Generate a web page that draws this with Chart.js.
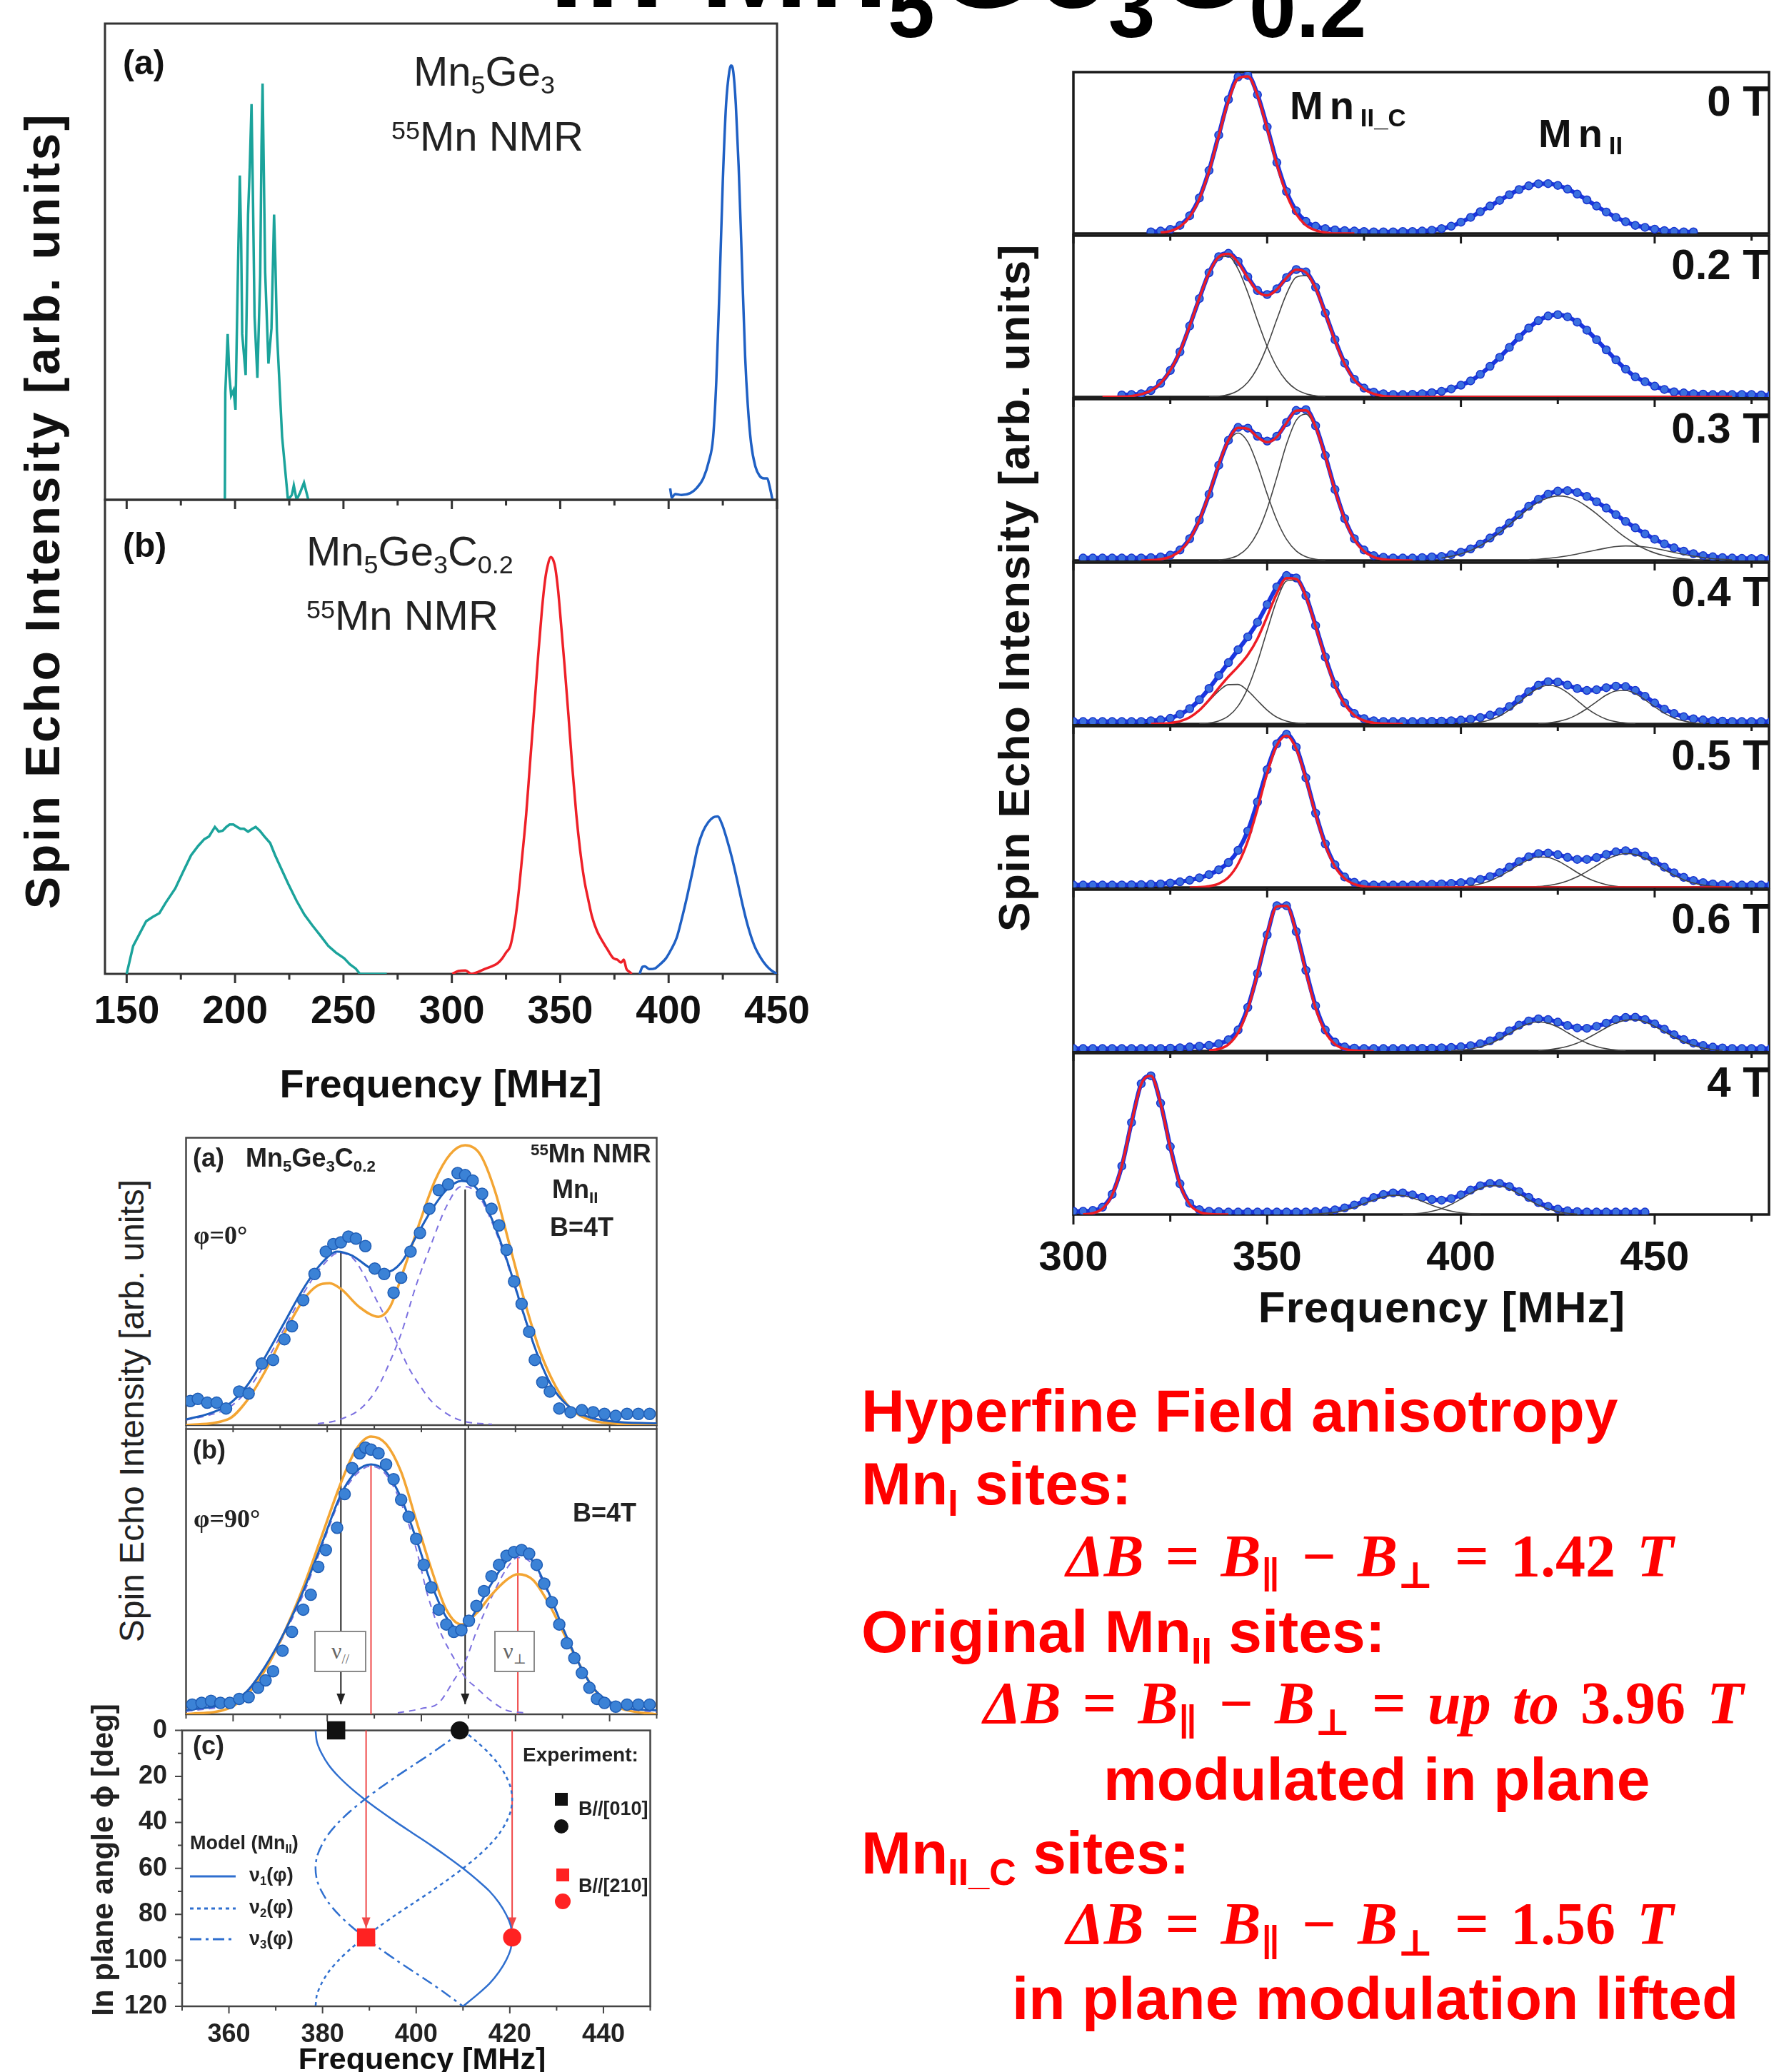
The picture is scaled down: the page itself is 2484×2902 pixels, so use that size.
<!DOCTYPE html>
<html>
<head>
<meta charset="utf-8">
<title>55Mn NMR in Mn5Ge3C0.2</title>
<script src="https://cdn.jsdelivr.net/npm/chart.js@4.4.1/dist/chart.umd.min.js"></script>
<style>
  html, body { margin: 0; padding: 0; }
  body { width: 2484px; height: 2902px; position: relative; overflow: hidden; background: #fff;
         font-family: "Liberation Sans", Arial, Helvetica, sans-serif; color: #111; }
  canvas { position: absolute; }
  .t { position: absolute; white-space: nowrap; line-height: 1; }
  .rot { position: absolute; white-space: nowrap; text-align: center; transform: rotate(-90deg); }
  .t sub { font-size: .62em; vertical-align: -.3em; line-height: 0; }
  .t sup { font-size: .62em; vertical-align: .45em; line-height: 0; }
  .ts { font-size: .65em; vertical-align: -42px; line-height: 0; }
  .math { font-family: "Liberation Serif", "DejaVu Serif", serif; font-weight: bold; word-spacing: 9px; }
  .box { position: absolute; border: 2px solid #8a8a8a; background: #fff; color: #666; box-sizing: border-box;
         font-family: "Liberation Serif", "DejaVu Serif", serif; font-size: 32px; text-align: center; line-height: 52px; }
  .mk { position: absolute; }
</style>
</head>
<body>
<script>
Chart.defaults.font.family = '"Liberation Sans", Arial, sans-serif';
Chart.defaults.color = '#111';

// ---------- top-left: 55Mn NMR, (a) Mn5Ge3, (b) Mn5Ge3C0.2 ----------
const tealAFreq = [195.3,195.5,196.6,197.4,198.2,199.3,200.2,201.4,202.2,202.8,203.3,204.9,206.0,206.8,207.6,208.3,209.0,210.3,211.6,212.2,212.7,213.3,213.9,215.4,216.8,218.0,218.6,219.3,221.7,224.4,226.2,227.1,228.4,230.0,231.8,233.8];
const tealA = [0,.225,.348,.26,.219,.23,.189,.5,.681,.55,.348,.262,.599,.7,.831,.62,.385,.256,.471,.74,.874,.68,.477,.286,.36,.599,.5,.354,.133,0,.01,.03,0,.015,.036,0];
const blueAFreq = [400.7,401.5,403,406,410,413,416,418.5,420.5,422,423.5,425,426.5,428,428.8,429.8,431,432.3,433.8,435.3,436.5,438,440,442,444,445.5,446.5,447.9];
const blueA = [.024,.005,.012,.01,.014,.025,.045,.08,.13,.25,.45,.67,.83,.9,.912,.9,.83,.7,.5,.3,.2,.12,.07,.05,.045,.045,.03,0];

const tealBFreq = [150,153,159,162,165.1,168,172.4,176,179.7,183,185.8,188,190.7,192.5,194.3,196,197.5,199.2,201,202.5,204.1,206,208,209.5,211.4,213.5,216.2,218.5,221.1,224.5,228.4,232,235.7,239.5,243,246.5,250.3,253,255.7,257.6,262,270];
const tealB = [0,.059,.111,.12,.128,.15,.18,.215,.25,.27,.284,.29,.31,.3,.302,.31,.315,.315,.31,.306,.306,.3,.306,.31,.302,.29,.276,.25,.224,.19,.154,.125,.102,.08,.059,.045,.033,.02,.011,0,0,0];
const redBFreq = [300.2,303,306.3,309,312,315,318.5,321,323.3,325,327,328.8,330.6,332.5,334.3,336,337.9,339.8,341.6,343,344,345.7,347,347.7,349,350.1,352,353.8,355.5,357.4,359.2,361.1,363,364.7,367,369.6,372,374.5,376.3,378.1,379.3,380.5,382,383];
const redB = [0,.006,.007,0,.004,.01,.016,.022,.033,.045,.059,.1,.163,.25,.337,.44,.553,.67,.77,.83,.857,.879,.87,.857,.81,.753,.65,.545,.44,.337,.26,.198,.155,.12,.09,.068,.05,.033,.03,.024,.03,.011,.004,0];
const blueBFreq = [386.6,388,389,391,393.9,396,398.8,401,403.7,406,408.5,411,413.4,415.8,418.3,420.5,422.6,424.7,426.8,429.2,431.6,434,436.5,439.5,442.6,445,447.5,449.9];
const blueB = [0,.015,.016,.01,.012,.02,.033,.05,.076,.115,.163,.215,.267,.3,.32,.33,.332,.315,.285,.245,.198,.148,.102,.06,.033,.018,.007,0];

// ---------- right: field dependence, 2.5 MHz grid ----------
const freqGrid = [300,302.5,305,307.5,310,312.5,315,317.5,320,322.5,325,327.5,330,332.5,335,337.5,340,342.5,345,347.5,350,352.5,355,357.5,360,362.5,365,367.5,370,372.5,375,377.5,380,382.5,385,387.5,390,392.5,395,397.5,400,402.5,405,407.5,410,412.5,415,417.5,420,422.5,425,427.5,430,432.5,435,437.5,440,442.5,445,447.5,450,452.5,455,457.5,460,462.5,465,467.5,470,472.5,475,477.5,480];
const fieldLabels = ['0 T', '0.2 T', '0.3 T', '0.4 T', '0.5 T', '0.6 T', '4 T'];

const blue0T = [.01,.015,.025,.05,.11,.22,.39,.61,.83,.97,.98,.86,.66,.44,.26,.14,.075,.045,.03,.022,.018,.015,.012,.01,.01,.01,.012,.012,.015,.02,.03,.045,.07,.10,.135,.17,.205,.24,.272,.295,.308,.309,.298,.275,.244,.208,.17,.133,.10,.073,.05,.038,.027,.018,.013,.01,.01];
const blue02T = [.012,.015,.02,.04,.085,.165,.28,.44,.61,.77,.87,.89,.84,.745,.66,.635,.67,.74,.79,.775,.68,.52,.355,.21,.11,.055,.03,.02,.016,.015,.017,.02,.027,.035,.05,.073,.10,.14,.19,.246,.307,.37,.427,.473,.502,.51,.497,.464,.414,.355,.292,.23,.173,.125,.095,.067,.047,.032,.025,.02,.018,.015,.015,.015,.015,.015,.012,.012];
const blue03T = [.015,.015,.015,.015,.015,.015,.016,.018,.022,.033,.065,.135,.25,.41,.59,.745,.825,.82,.77,.74,.77,.855,.93,.935,.835,.65,.44,.26,.135,.065,.03,.02,.016,.015,.015,.018,.022,.025,.036,.051,.072,.102,.139,.183,.232,.283,.336,.379,.411,.43,.433,.421,.397,.364,.325,.284,.242,.202,.165,.132,.103,.078,.058,.042,.03,.023,.018,.015,.013,.012,.012,.012];
const blue04T = [.015,.015,.015,.015,.015,.015,.015,.016,.02,.025,.035,.06,.095,.15,.22,.30,.38,.46,.54,.63,.74,.85,.92,.905,.795,.61,.415,.245,.13,.065,.033,.02,.016,.015,.015,.015,.016,.017,.018,.02,.024,.03,.04,.055,.075,.108,.152,.2,.24,.262,.26,.241,.22,.208,.212,.225,.235,.232,.208,.172,.13,.092,.065,.045,.032,.025,.02,.018,.016,.015,.015,.015,.015];
const blue05T = [.015,.015,.015,.015,.015,.016,.017,.018,.02,.022,.028,.035,.045,.06,.08,.11,.155,.23,.35,.53,.73,.89,.95,.87,.68,.46,.27,.14,.065,.032,.02,.016,.015,.015,.015,.016,.018,.02,.022,.025,.03,.037,.05,.068,.092,.126,.16,.19,.21,.213,.203,.187,.174,.174,.186,.205,.221,.228,.219,.196,.163,.126,.091,.063,.043,.03,.022,.018,.016,.015,.015,.015,.015];
const blue06T = [.015,.015,.015,.015,.015,.015,.015,.015,.015,.016,.018,.02,.025,.03,.035,.045,.07,.13,.27,.48,.72,.9,.9,.74,.5,.28,.13,.055,.025,.018,.015,.015,.015,.015,.015,.016,.017,.018,.02,.022,.026,.033,.045,.063,.092,.125,.16,.186,.199,.195,.179,.158,.143,.141,.153,.173,.195,.208,.209,.195,.168,.135,.101,.071,.049,.034,.024,.019,.016,.015,.015,.015,.015];
const blue4T = [.02,.02,.025,.045,.125,.3,.57,.81,.86,.69,.42,.19,.07,.03,.02,.018,.015,.015,.015,.015,.015,.015,.015,.016,.016,.018,.022,.029,.041,.059,.082,.105,.124,.134,.134,.122,.106,.093,.089,.099,.122,.151,.178,.193,.192,.173,.142,.106,.074,.05,.033,.023,.018,.016,.015,.015,.015,.015,.015,.015];
const blueStart = [320, 312.5, 302.5, 300, 300, 300, 300];

const red0T = [.005,.015,.042,.103,.214,.386,.605,.82,.96,.973,.855,.65,.428,.243,.12,.051,.019,.006,0,0,0];
const red02T = [0,.001,.002,.006,.017,.04,.085,.165,.283,.44,.613,.769,.868,.887,.833,.738,.655,.629,.666,.738,.789,.772,.674,.517,.348,.205,.106,.048,.019,.006,.002,
  0,0,0,0,0, 0,0,0,0,0, 0,0,0,0,0, 0,0,0,0,0, 0,0,0,0,0, 0,0,0,0,0, 0,0,0,0,0];
const red03T = [0,.002,.008,.023,.059,.131,.25,.412,.595,.746,.822,.816,.765,.733,.766,.852,.928,.93,.828,.644,.435,.256,.129,.057,.022,.007,.002,0,0];
const red04T = [0,.002,.006,.017,.041,.085,.149,.223,.293,.356,.428,.529,.666,.809,.904,.899,.788,.605,.406,.238,.122,.054,.021,.007,.002,0,0];
const red05T = [0,.002,.008,.024,.063,.146,.288,.487,.708,.881,.94,.859,.673,.453,.261,.129,.055,.02,.006,.002,
  0,0,0,0,0, 0,0,0,0,0, 0,0,0,0,0, 0,0,0,0,0, 0,0,0,0,0, 0,0,0,0,0, 0,0,0,0,0, 0,0];
const red06T = [.003,.012,.04,.113,.258,.479,.726,.895,.899,.734,.489,.266,.118,.042,.012,.003,0,0];
const red4T = [.001,.008,.036,.12,.302,.569,.807,.86,.688,.413,.187,.063,.016,.003,0,0];
const redStart = [322.5, 307.5, 317.5, 320, 330, 335, 302.5];

// fitted components: [first frequency, values on the grid]
const comps02T = [
  [315, [.006,.017,.04,.085,.165,.283,.44,.613,.767,.863,.872,.793,.647,.474,.313,.185,.099,.047,.02,.008,.003]],
  [335, [.0015,.005,.015,.04,.091,.181,.316,.481,.639,.742,.752,.666,.514,.347,.205,.106,.048,.019,.006,.002]]];
const comps03T = [
  [320, [.002,.008,.023,.059,.131,.25,.412,.592,.735,.79,.735,.592,.412,.25,.131,.059,.023,.008,.002]],
  [337.5, [.003,.011,.032,.081,.173,.321,.516,.721,.869,.907,.82,.642,.435,.256,.129,.057,.022,.007,.002]],
  [395, [.015,.026,.041,.062,.092,.129,.173,.222,.273,.321,.361,.388,.40,.394,.371,.334,.289,.238,.188,.142,.103,.071,.047,.03,.018,.01,.005,.002]],
  [417.5, [.005,.008,.013,.02,.029,.04,.053,.065,.077,.086,.09,.089,.084,.075,.063,.05,.038,.027,.018,.011,.007,.004]]];
const comps04T = [
  [322.5, [.002,.006,.017,.041,.083,.143,.204,.244,.245,.206,.145,.086,.042,.018,.006,.002]],
  [332.5, [.002,.006,.019,.049,.111,.222,.384,.58,.767,.886,.893,.786,.605,.406,.238,.122,.054,.021,.007,.002]],
  [400, [.002,.005,.011,.025,.05,.087,.134,.183,.222,.24,.229,.194,.146,.097,.058,.03,.014,.006,.002]],
  [420, [.002,.006,.015,.031,.058,.095,.138,.179,.205,.208,.188,.15,.107,.067,.037,.019,.008,.003]]];
const comps05T = [
  [397.5, [.002,.005,.01,.022,.041,.069,.104,.141,.172,.189,.186,.165,.131,.093,.06,.035,.018,.008,.003]],
  [417.5, [.002,.006,.012,.023,.041,.066,.099,.136,.172,.198,.21,.204,.181,.148,.111,.076,.048,.028,.015,.007,.003]]];
const comps06T = [
  [397.5, [.002,.005,.012,.025,.045,.074,.108,.143,.169,.18,.172,.148,.114,.079,.049,.028,.014,.006,.002]],
  [420, [.004,.008,.016,.029,.049,.077,.11,.144,.174,.191,.194,.18,.153,.12,.086,.056,.034,.019,.009,.004]]];
const comps4T = [
  [360, [.001,.003,.007,.014,.026,.044,.067,.09,.109,.119,.117,.103,.082,.058,.037,.021,.011,.005,.002]],
  [385, [.002,.004,.009,.02,.037,.063,.096,.131,.161,.178,.177,.158,.127,.091,.059,.035,.018,.008,.003]]];

// ---------- bottom-left: Mn_II at B = 4 T, phi = 0 and 90 deg ----------
const dotsAFreq = [350.9,352.5,354.5,356.5,358.5,361.3,363.3,366.1,368.5,370.9,372.5,374.9,377.3,379.7,381.3,382.9,384.5,386.1,388.1,390.1,392.1,394.1,395.7,397.7,399.7,401.7,403.7,405.7,407.7,409.3,410.9,412.9,414.9,416.5,418.1,419.7,421.3,422.9,424.1,425.7,427.3,429.3,431.7,434.1,436.5,438.9,441.3,443.7,446.1,448.5];
const dotsA = [.084,.091,.078,.078,.058,.117,.11,.214,.227,.299,.344,.435,.526,.604,.63,.636,.656,.649,.623,.545,.526,.461,.513,.604,.669,.753,.818,.838,.877,.87,.851,.805,.753,.695,.61,.5,.422,.325,.227,.149,.117,.058,.045,.052,.045,.039,.032,.039,.039,.039];
const fitAFreq = [350,354.9,358.9,362.9,366.9,370.9,374.9,378.9,382.1,385.3,389.3,392.5,395.7,398.9,402.1,405.3,408.5,411.7,414.9,418.1,421.3,424.5,427.7,430.9,434.9,440.5,450];
const fitA = [.02,.04,.07,.136,.24,.357,.474,.565,.604,.59,.545,.532,.565,.656,.747,.818,.85,.825,.72,.578,.41,.253,.136,.071,.032,.013,.006];
const modelAFreq = [350,358.9,362.9,366.9,370.9,374.9,378.1,380.5,382.9,386.9,390.9,393.3,396.5,399.7,402.9,406.1,409.3,412.5,415.7,418.9,422.1,425.3,428.5,431.7,435.7,440.5,450];
const modelA = [0,.02,.084,.19,.32,.435,.487,.494,.474,.41,.377,.41,.552,.708,.851,.942,.974,.942,.812,.617,.422,.253,.136,.058,.019,.006,0];
const peak1AFreq = [350,355,359,363,367,371,375,379,382.5,385.5,387.7,390,392.5,395,397.3,400,402.1,404.5,406.9,410,415];
const peak1A = [.018,.035,.06,.12,.22,.34,.46,.555,.6,.58,.526,.45,.37,.28,.2,.13,.084,.05,.026,.01,.003];
const peak2AFreq = [378,381.3,384,386.1,388.5,390.9,393.3,395.7,398.9,402.1,405.3,408.5,411.7,414.9,418.1,421.3,424.5,427.7,430.9,434.9,440,446];
const peak2A = [.005,.013,.028,.045,.08,.136,.22,.318,.487,.63,.76,.83,.81,.71,.57,.405,.25,.135,.07,.03,.012,.004];

const dotsBFreq = [351.3,353.3,355.3,357.3,359.3,361.3,363.3,365.3,366.9,368.5,370.5,372.5,374.9,376.5,378.1,379.7,382.1,383.7,385.3,386.9,388.1,389.3,390.9,392.5,394.1,395.7,397.3,398.9,400.5,402.1,403.7,405.3,406.9,408.5,410.1,411.7,413.3,414.9,416.5,418.1,419.7,421.3,422.9,424.5,426.1,427.7,429.3,430.9,432.5,434.1,435.7,437.3,438.9,441.3,443.7,446.1,448.5];
const dotsB = [.034,.04,.047,.04,.04,.054,.06,.093,.119,.151,.223,.289,.367,.419,.517,.576,.654,.772,.863,.915,.935,.928,.915,.876,.824,.752,.693,.615,.524,.445,.367,.315,.289,.295,.328,.38,.432,.484,.524,.556,.569,.576,.563,.524,.458,.393,.315,.249,.197,.145,.093,.054,.04,.027,.034,.034,.034];
const curveBFreq = [350,358.9,362.9,366.9,370.9,374.9,378.9,382.9,386.1,389.3,392.5,395.7,398.9,402.1,405.3,408.5,411.7,414.9,418.1,420.5,423.7,426.9,430.1,433.3,436.5,439.7,443.7,450];
const fitB = [.014,.04,.08,.17,.288,.432,.6,.77,.85,.876,.85,.758,.615,.458,.34,.295,.367,.458,.537,.563,.537,.432,.302,.184,.093,.047,.021,.014];
const modelB = [0,.02,.067,.158,.288,.445,.628,.811,.928,.974,.948,.85,.68,.51,.367,.315,.354,.419,.471,.491,.471,.393,.289,.184,.093,.04,.014,0];
const peak1BFreq = [350,358.9,362.9,366.9,370.9,374.9,378.9,382.9,386.1,389.3,392.5,395.7,398.9,401.3,404,406.9,409.3,411.7,415,418.1,422];
const peak1B = [.01,.035,.075,.16,.28,.42,.59,.76,.84,.87,.84,.74,.58,.42,.29,.197,.13,.093,.045,.014,.005];
const peak2BFreq = [395,400,403.7,406.9,409.3,411.7,414.9,418.1,420.5,423.7,426.9,430.1,433.3,436.5,439.7,443.7,450];
const peak2B = [.005,.02,.04,.119,.184,.29,.41,.51,.55,.525,.425,.3,.184,.093,.047,.02,.008];

// (c) in-plane angle model and experiment
const angle = [0,5,10,15,20,25,30,35,40,45,50,55,60,65,70,75,80,85,90,95,100,105,110,115,120];
const nu1 = [378.5,378.8,379.8,381.3,383.4,386.0,389.0,392.3,395.8,399.5,403.2,406.7,410.0,413.0,415.7,417.7,419.2,420.2,420.5,420.2,419.2,417.7,415.7,413.0,410.0];
const nu2 = [410.0,413.0,415.6,417.7,419.2,420.2,420.5,420.2,419.2,417.7,415.6,413.0,410.0,406.7,403.2,399.5,395.8,392.3,389.0,386.0,383.4,381.3,379.8,378.8,378.5];
const nu3 = [410.0,406.7,403.2,399.5,395.8,392.3,389.0,386.0,383.4,381.3,379.8,378.8,378.5,378.8,379.8,381.3,383.4,386.0,389.0,392.3,395.8,399.5,403.2,406.7,410.0];
const exp0Freq = [382.9, 409.3];   // B//[010], phi = 0
const exp90Freq = [389.3, 420.5];  // B//[210], phi = 90
const peakHeightA = [.604, .82];
const peakHeightB = [.876, .563];

// ---------- helpers ----------
const xy = (xs, ys) => ys.map((y, i) => ({x: xs[i], y}));
const onGrid = (from, ys) => {
  const k = freqGrid.indexOf(from);
  return ys.map((y, i) => ({x: freqGrid[k + i], y}));
};

function trace(data, color, width, more) {
  return Object.assign({data, borderColor: color, borderWidth: width, pointRadius: 0, fill: false,
    cubicInterpolationMode: 'monotone'}, more || {});
}
function dots(data, fill, edge, r, more) {
  return Object.assign({data, showLine: false, pointRadius: r, pointBackgroundColor: fill,
    pointBorderColor: edge, pointBorderWidth: 1.5}, more || {});
}

// box around the plot area plus outward tick marks
const frame = {
  id: 'frame',
  beforeDatasetsDraw(chart, args, o) {
    const {ctx, chartArea: a, scales} = chart;
    ctx.save();
    ctx.strokeStyle = o.color;
    ctx.lineWidth = o.width;
    ctx.strokeRect(a.left, a.top, a.right - a.left, a.bottom - a.top);
    ctx.lineWidth = o.tickWidth;
    ctx.beginPath();
    scales.x.ticks.forEach(t => {
      const p = scales.x.getPixelForValue(t.value);
      const len = t.value % o.xMajor === 0 ? o.len : o.minorLen;
      ctx.moveTo(p, a.bottom);
      ctx.lineTo(p, a.bottom + len);
    });
    if (o.yMajor) {
      scales.y.ticks.forEach(t => {
        const p = scales.y.getPixelForValue(t.value);
        const len = t.value % o.yMajor === 0 ? o.len : o.minorLen;
        ctx.moveTo(a.left, p);
        ctx.lineTo(a.left - len, p);
      });
    }
    ctx.stroke();
    ctx.restore();
  }
};

// vertical guide lines (peak positions), optional arrow head
const guides = {
  id: 'guides',
  beforeDatasetsDraw(chart, args, o) {
    if (!o.lines) return;
    const {ctx, scales: {x, y}} = chart;
    ctx.save();
    o.lines.forEach(g => {
      const px = x.getPixelForValue(g.x);
      const y0 = y.getPixelForValue(g.from), y1 = y.getPixelForValue(g.to);
      ctx.strokeStyle = g.color;
      ctx.fillStyle = g.color;
      ctx.lineWidth = g.width;
      ctx.beginPath();
      ctx.moveTo(px, y0);
      ctx.lineTo(px, y1);
      ctx.stroke();
      if (g.arrow) {
        ctx.beginPath();
        ctx.moveTo(px, y1);
        ctx.lineTo(px - 6, y1 - 15);
        ctx.lineTo(px + 6, y1 - 15);
        ctx.closePath();
        ctx.fill();
      }
    });
    ctx.restore();
  }
};

function panel(area, pad, datasets, o) {
  const cv = document.createElement('canvas');
  const W = area.w + pad.l + pad.r, H = area.h + pad.t + pad.b;
  cv.width = W;
  cv.height = H;
  Object.assign(cv.style, {left: (area.x - pad.l) + 'px', top: (area.y - pad.t) + 'px', width: W + 'px', height: H + 'px'});
  document.body.appendChild(cv);
  const yShown = !!o.yTicks;
  return new Chart(cv, {
    type: 'line',
    data: {datasets},
    options: {
      responsive: false, animation: false, events: [], devicePixelRatio: 1,
      layout: {padding: {left: yShown ? 0 : pad.l, top: pad.t, right: pad.r, bottom: 0}},
      plugins: {legend: {display: false}, tooltip: {enabled: false}, frame: o.frame, guides: {lines: o.lines}},
      scales: {
        x: {
          type: 'linear', min: o.xMin, max: o.xMax,
          afterFit: s => { s.height = pad.b; },
          grid: {display: false, drawTicks: false}, border: {display: false},
          ticks: Object.assign({stepSize: o.xStep, includeBounds: false, autoSkip: false, maxRotation: 0,
            display: !!o.xLabels, callback: o.xLabels || (() => '')}, o.xTickStyle || {})
        },
        y: yShown ? {
          type: 'linear', min: o.yMin, max: o.yMax, reverse: !!o.yReverse,
          afterFit: s => { s.width = pad.l; },
          grid: {display: false, drawTicks: false}, border: {display: false},
          ticks: Object.assign({stepSize: o.yStep, includeBounds: false, autoSkip: false, callback: o.yTicks}, o.yTickStyle || {})
        } : {display: false, min: o.yMin, max: o.yMax}
      }
    },
    plugins: [frame, guides]
  });
}

function txt(html, left, base, size, css, serif) {
  const d = document.createElement('div');
  d.className = 't';
  d.innerHTML = html;
  const k = serif ? 0.8375 : 0.8465;
  d.style.cssText = `left:${left}px;top:${(base - k * size).toFixed(1)}px;font-size:${size}px;` + (css || '');
  document.body.appendChild(d);
  return d;
}
function ctext(html, cx, cy, size, css) {
  const d = document.createElement('div');
  d.className = 't';
  d.innerHTML = html;
  d.style.cssText = `left:${cx}px;top:${cy - size / 2}px;font-size:${size}px;transform:translateX(-50%);` + (css || '');
  document.body.appendChild(d);
}
function vtext(html, cx, cy, size, w, css) {
  const d = document.createElement('div');
  d.className = 'rot';
  d.innerHTML = html;
  d.style.cssText = `left:${cx - w / 2}px;top:${cy - size / 2}px;width:${w}px;height:${size}px;line-height:${size}px;font-size:${size}px;` + (css || '');
  document.body.appendChild(d);
}

// ---------- top-left chart ----------
const tlFrame = {color: '#333', width: 3, tickWidth: 3, len: 13, minorLen: 8, xMajor: 50};
const tlX = {xMin: 140, xMax: 450, xStep: 25, yMin: 0, yMax: 1, frame: tlFrame};
panel({x: 147, y: 33, w: 941, h: 667}, {l: 4, t: 4, r: 4, b: 20}, [
  trace(xy(tealAFreq, tealA), '#1ba39b', 3.5, {cubicInterpolationMode: 'default', tension: 0}),
  trace(xy(blueAFreq, blueA), '#1f60c4', 3.5)
], tlX);
panel({x: 147, y: 700, w: 941, h: 664}, {l: 80, t: 4, r: 80, b: 110}, [
  trace(xy(tealBFreq, tealB), '#1ba39b', 3.5, {cubicInterpolationMode: 'default', tension: 0}),
  trace(xy(redBFreq, redB), '#ee2028', 3.5),
  trace(xy(blueBFreq, blueB), '#1f60c4', 3.5)
], Object.assign({}, tlX, {
  xLabels: v => v % 50 === 0 ? v : '',
  xTickStyle: {font: {size: 55, weight: 'bold'}, color: '#111', padding: 21}
}));

// ---------- right chart: one panel per field ----------
const fieldBlue = [blue0T, blue02T, blue03T, blue04T, blue05T, blue06T, blue4T];
const fieldRed = [red0T, red02T, red03T, red04T, red05T, red06T, red4T];
const fieldComps = [[], comps02T, comps03T, comps04T, comps05T, comps06T, comps4T];
const rFrame = {color: '#1a1a1a', width: 3.5, tickWidth: 3, len: 14, minorLen: 10, xMajor: 50};
fieldLabels.forEach((lab, i) => {
  const last = i === fieldLabels.length - 1;
  const ds = [trace(onGrid(redStart[i], fieldRed[i]), '#ee1c25', 3.5)];
  fieldComps[i].forEach(c => ds.push(trace(onGrid(c[0], c[1]), '#444', 1.6)));
  ds.push(dots(onGrid(blueStart[i], fieldBlue[i]), '#3a6fe0', '#1732cf', 5.5,
    {showLine: true, borderColor: '#1a35e0', borderWidth: 6, cubicInterpolationMode: 'monotone'}));
  panel({x: 1503, y: 98 + i * 229, w: 979, h: 229}, {l: 100, t: 4, r: 2, b: last ? 110 : 20}, ds, {
    xMin: 300, xMax: 479.5, xStep: 25, yMin: 0, yMax: 1, frame: rFrame,
    xLabels: last ? (v => v % 50 === 0 ? v : '') : null,
    xTickStyle: {font: {size: 58, weight: 'bold'}, color: '#111', padding: 27}
  });
});

// ---------- bottom-left chart ----------
const blFrame = {color: '#444', width: 2.5, tickWidth: 2, len: 10, minorLen: 6, xMajor: 20};
const blX = {xMin: 350, xMax: 450, xStep: 10, yMin: 0, yMax: 1, frame: blFrame};
const dashed = {borderDash: [9, 7]};
panel({x: 255, y: 1588, w: 670, h: 408}, {l: 4, t: 4, r: 4, b: 16}, [
  dots(xy(dotsAFreq, dotsA), '#3b82d6', '#1f5db5', 8),
  trace(xy(fitAFreq, fitA), '#1d5fbf', 3),
  trace(xy(modelAFreq, modelA), '#f3a533', 3.5),
  trace(xy(peak1AFreq, peak1A), '#7b70e0', 2, dashed),
  trace(xy(peak2AFreq, peak2A), '#7b70e0', 2, dashed)
], Object.assign({}, blX, {lines: [
  {x: exp0Freq[0], from: peakHeightA[0], to: 0, color: '#222', width: 2},
  {x: exp0Freq[1], from: peakHeightA[1], to: 0, color: '#222', width: 2}
]}));
panel({x: 255, y: 1996, w: 670, h: 405}, {l: 4, t: 4, r: 4, b: 16}, [
  dots(xy(dotsBFreq, dotsB), '#3b82d6', '#1f5db5', 8),
  trace(xy(curveBFreq, fitB), '#1d5fbf', 3),
  trace(xy(curveBFreq, modelB), '#f3a533', 3.5),
  trace(xy(peak1BFreq, peak1B), '#7b70e0', 2, dashed),
  trace(xy(peak2BFreq, peak2B), '#7b70e0', 2, dashed)
], Object.assign({}, blX, {lines: [
  {x: exp0Freq[0], from: 1, to: .035, color: '#222', width: 2, arrow: true},
  {x: exp0Freq[1], from: 1, to: .035, color: '#222', width: 2, arrow: true},
  {x: exp90Freq[0], from: peakHeightB[0], to: 0, color: '#f04848', width: 2},
  {x: exp90Freq[1], from: peakHeightB[1], to: 0, color: '#f04848', width: 2}
]}));
panel({x: 255, y: 2401, w: 670, h: 409}, {l: 130, t: 20, r: 4, b: 70}, [
  dots(xy(exp0Freq, [0, 0]), '#111', '#111', [17, 12], {pointStyle: ['rect', 'circle'], clip: false}),
  dots(xy(exp90Freq, [90, 90]), '#f22', '#f22', [17, 12], {pointStyle: ['rect', 'circle'], clip: false}),
  trace(xy(nu1, angle), '#2f6fcf', 2.5, {cubicInterpolationMode: 'default', tension: 0.3}),
  trace(xy(nu2, angle), '#2f6fcf', 2.5, {cubicInterpolationMode: 'default', tension: 0.3, borderDash: [5, 5]}),
  trace(xy(nu3, angle), '#2f6fcf', 2.5, {cubicInterpolationMode: 'default', tension: 0.3, borderDash: [16, 6, 4, 6]})
], {
  xMin: 350, xMax: 450, xStep: 10, yMin: 0, yMax: 120, yStep: 10, yReverse: true,
  frame: Object.assign({yMajor: 20}, blFrame),
  xLabels: v => (v % 20 === 0 && v > 350 && v < 450) ? v : '',
  xTickStyle: {font: {size: 36, weight: 'bold'}, color: '#222', padding: 18},
  yTicks: v => v % 20 === 0 ? v : '',
  yTickStyle: {font: {size: 36, weight: 'bold'}, color: '#222', padding: 21},
  lines: [
    {x: exp90Freq[0], from: 0, to: 86, color: '#f04848', width: 2, arrow: true},
    {x: exp90Freq[1], from: 0, to: 86, color: '#f04848', width: 2, arrow: true}
  ]
});

// ---------- texts ----------
txt('in Mn<span class="ts">5</span>Ge<span class="ts">3</span>C<span class="ts">0.2</span>', 768, 10, 182, 'font-weight:bold;color:#000;');

// top-left
txt('(a)', 172, 105, 48, 'font-weight:bold;');
txt('Mn<sub>5</sub>Ge<sub>3</sub>', 579, 120, 58, 'color:#222;');
txt('<sup>55</sup>Mn NMR', 548, 211, 58, 'color:#222;');
txt('(b)', 172, 781, 48, 'font-weight:bold;');
txt('Mn<sub>5</sub>Ge<sub>3</sub>C<sub>0.2</sub>', 429, 792, 58, 'color:#222;');
txt('<sup>55</sup>Mn NMR', 429, 882, 58, 'color:#222;');
vtext('Spin Echo Intensity [arb. units]', 59, 715, 68, 1200, 'font-weight:bold;letter-spacing:3.6px;');
ctext('Frequency [MHz]', 617, 1518, 56, 'font-weight:bold;');

// right
vtext('Spin Echo Intensity [arb. units]', 1420, 823, 62, 1040, 'font-weight:bold;letter-spacing:1.6px;');
ctext('Frequency [MHz]', 2019, 1831, 62, 'font-weight:bold;letter-spacing:1px;');
txt('<span style="letter-spacing:9px">Mn</span><sub>II_C</sub>', 1806, 167, 56, 'font-weight:bold;');
txt('<span style="letter-spacing:9px">Mn</span><sub>II</sub>', 2154, 206, 56, 'font-weight:bold;');
fieldLabels.forEach((lab, i) => {
  txt(lab, 0, 98 + i * 229 + 65, 60, 'left:auto;right:7px;font-weight:bold;');
});

// bottom-left
vtext('Spin Echo Intensity [arb. units]', 185, 1976, 48, 720, 'color:#222;');
vtext('In plane angle ϕ [deg]', 144, 2605, 42, 480, 'font-weight:bold;color:#222;');
ctext('Frequency [MHz]', 591, 2883, 43, 'font-weight:bold;');
txt('(a)', 270, 1634, 36, 'font-weight:bold;color:#222;');
txt('Mn<sub>5</sub>Ge<sub>3</sub>C<sub>0.2</sub>', 344, 1634, 36, 'font-weight:bold;color:#222;');
txt('<sup>55</sup>Mn NMR', 743, 1628, 36, 'font-weight:bold;color:#222;');
txt('Mn<sub>II</sub>', 773, 1678, 36, 'font-weight:bold;color:#222;');
txt('B=4T', 770, 1731, 36, 'font-weight:bold;color:#222;');
txt('φ=0°', 271, 1742, 36, 'font-weight:bold;color:#222;font-family:\'Liberation Serif\',serif;', true);
txt('(b)', 270, 2043, 36, 'font-weight:bold;color:#222;');
txt('φ=90°', 271, 2139, 36, 'font-weight:bold;color:#222;font-family:\'Liberation Serif\',serif;', true);
txt('B=4T', 802, 2131, 36, 'font-weight:bold;color:#222;');
txt('(c)', 270, 2457, 36, 'font-weight:bold;color:#222;');
txt('Experiment:', 732, 2468, 28, 'font-weight:bold;color:#222;');
txt('B//[010]', 810, 2543, 27, 'font-weight:bold;color:#222;');
txt('B//[210]', 810, 2651, 27, 'font-weight:bold;color:#222;');
txt('Model (Mn<sub>II</sub>)', 266, 2591, 27, 'font-weight:bold;color:#222;');
txt('ν<sub>1</sub>(φ)', 349, 2636, 27, 'font-weight:bold;color:#222;');
txt('ν<sub>2</sub>(φ)', 349, 2681, 27, 'font-weight:bold;color:#222;');
txt('ν<sub>3</sub>(φ)', 349, 2725, 27, 'font-weight:bold;color:#222;');
document.body.insertAdjacentHTML('beforeend',
  '<svg style="position:absolute;left:266px;top:2610px" width="70" height="120">' +
  '<line x1="0" y1="18" x2="64" y2="18" stroke="#2f6fcf" stroke-width="3"/>' +
  '<line x1="0" y1="63" x2="64" y2="63" stroke="#2f6fcf" stroke-width="3" stroke-dasharray="5 5"/>' +
  '<line x1="0" y1="106" x2="64" y2="106" stroke="#2f6fcf" stroke-width="3" stroke-dasharray="16 6 4 6"/>' +
  '</svg>' +
  '<div class="mk" style="left:777px;top:2511px;width:18px;height:18px;background:#111"></div>' +
  '<div class="mk" style="left:776px;top:2548px;width:20px;height:20px;border-radius:50%;background:#111"></div>' +
  '<div class="mk" style="left:779px;top:2617px;width:18px;height:18px;background:#f22"></div>' +
  '<div class="mk" style="left:777px;top:2652px;width:22px;height:22px;border-radius:50%;background:#f22"></div>' +
  '<div class="box" style="left:440px;top:2284px;width:73px;height:58px">ν<sub style="font-size:.6em">//</sub></div>' +
  '<div class="box" style="left:692px;top:2284px;width:57px;height:58px">ν<sub style="font-size:.6em">⊥</sub></div>');

// red summary block
const red = 'font-weight:bold;color:#ff0000;';
txt('Hyperfine Field anisotropy', 1206, 2005, 84, red);
txt('Mn<sub>I</sub> sites:', 1206, 2107, 84, red);
txt('<span class="math"><i>ΔB</i> = <i>B</i><sub>∥</sub> − <i>B</i><sub>⊥</sub> = 1.42 <i>T</i></span>', 1493, 2207, 84, 'color:#ff0000;', true);
txt('Original Mn<sub>II</sub> sites:', 1206, 2314, 84, red);
txt('<span class="math"><i>ΔB</i> = <i>B</i><sub>∥</sub> − <i>B</i><sub>⊥</sub> = <i>up to</i> 3.96 <i>T</i></span>', 1377, 2413, 84, 'color:#ff0000;', true);
txt('modulated in plane', 1545, 2521, 84, red);
txt('Mn<sub>II_C</sub> sites:', 1206, 2624, 84, red);
txt('<span class="math"><i>ΔB</i> = <i>B</i><sub>∥</sub> − <i>B</i><sub>⊥</sub> = 1.56 <i>T</i></span>', 1493, 2722, 84, 'color:#ff0000;', true);
txt('in plane modulation lifted', 1417, 2828, 84, red);
</script>
</body>
</html>
